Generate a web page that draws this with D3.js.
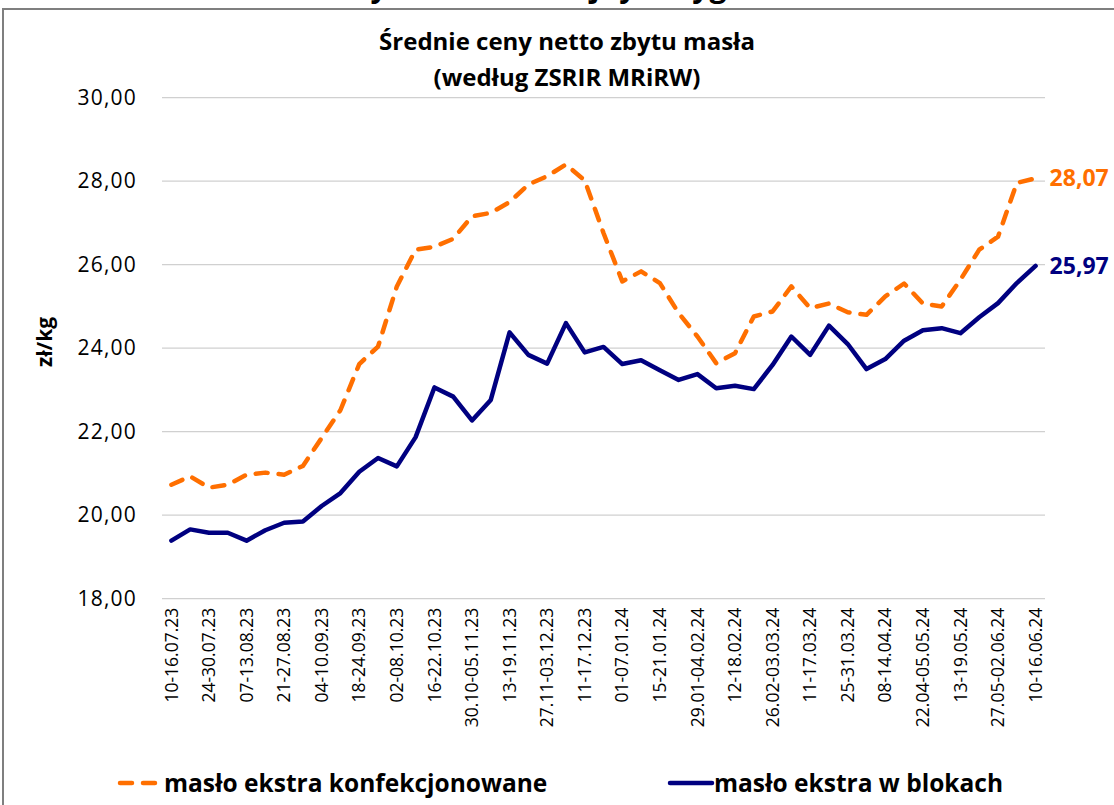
<!DOCTYPE html>
<html>
<head>
<meta charset="utf-8">
<script src="https://cdn.jsdelivr.net/npm/d3@7"></script>
<style>
  body { margin: 0; background: #fff; }
  svg { display: block; font-family: "Open Sans", Lato, sans-serif; }
</style>
</head>
<body>
<div id="chart"></div>
<script>
// Średnie ceny netto zbytu masła - tygodniowo 07.2023 - 06.2024

const weeks = [
  "10-16.07.23", "17-23.07.23", "24-30.07.23", "31.07-06.08.23", "07-13.08.23",
  "14-20.08.23", "21-27.08.23", "28.08-03.09.23", "04-10.09.23", "11-17.09.23",
  "18-24.09.23", "25.09-01.10.23", "02-08.10.23", "09-15.10.23", "16-22.10.23",
  "23-29.10.23", "30.10-05.11.23", "06-12.11.23", "13-19.11.23", "20-26.11.23",
  "27.11-03.12.23", "04-10.12.23", "11-17.12.23", "18-31.12.23", "01-07.01.24",
  "08-14.01.24", "15-21.01.24", "22-28.01.24", "29.01-04.02.24", "05-11.02.24",
  "12-18.02.24", "19-25.02.24", "26.02-03.03.24", "04-10.03.24", "11-17.03.24",
  "18-24.03.24", "25-31.03.24", "01-07.04.24", "08-14.04.24", "15-21.04.24",
  "22.04-05.05.24", "06-12.05.24", "13-19.05.24", "20-26.05.24", "27.05-02.06.24",
  "03-09.06.24", "10-16.06.24"
];

// masło ekstra konfekcjonowane (zł/kg)
const konfekcjonowane = [
  20.73, 20.93, 20.66, 20.73, 20.97, 21.02, 20.97, 21.18, 21.85, 22.52,
  23.62, 24.04, 25.48, 26.36, 26.43, 26.62, 27.16, 27.24, 27.50, 27.92,
  28.12, 28.40, 28.02, 26.76, 25.60, 25.84, 25.56, 24.84, 24.28, 23.64,
  23.88, 24.76, 24.88, 25.48, 24.96, 25.07, 24.86, 24.80, 25.24, 25.55,
  25.07, 25.00, 25.64, 26.36, 26.67, 27.96, 28.07
];

// masło ekstra w blokach (zł/kg)
const wBlokach = [
  19.39, 19.66, 19.58, 19.58, 19.39, 19.64, 19.82, 19.85, 20.22, 20.53,
  21.04, 21.37, 21.17, 21.87, 23.06, 22.84, 22.27, 22.76, 24.38, 23.84,
  23.63, 24.60, 23.90, 24.03, 23.62, 23.71, 23.47, 23.24, 23.38, 23.04,
  23.10, 23.02, 23.60, 24.28, 23.84, 24.54, 24.10, 23.50, 23.74, 24.18,
  24.43, 24.48, 24.36, 24.74, 25.08, 25.56, 25.97
];

const yTicks = [18, 20, 22, 24, 26, 28, 30];

const seriesNames = ["masło ekstra konfekcjonowane", "masło ekstra w blokach"];
const colors = ["#ff6f00", "#000080"];

const W = 1114, H = 805;
const svg = d3.select("#chart")
  .append("svg")
  .attr("width", W)
  .attr("height", H);

// heading of the page above the chart, only its descenders are visible
svg.append("text")
  .attr("x", 580)
  .attr("y", -3)
  .attr("text-anchor", "middle")
  .attr("font-size", 30)
  .attr("font-weight", "bold")
  .text("Ceny masła w kolejnych tygodniach");

// chart frame
svg.append("rect")
  .attr("x", 3).attr("y", 9)
  .attr("width", 1300).attr("height", 1000)
  .attr("fill", "#fff")
  .attr("stroke", "#7f7f7f")
  .attr("stroke-width", 2);

// Plot area
const plot = { left: 162, right: 1045, top: 97.7, bottom: 598.7 };

const x = d3.scaleBand()
  .domain(weeks)
  .range([plot.left, plot.right])
  .padding(0);

const xc = d => x(d) + x.bandwidth() / 2;

const y = d3.scaleLinear()
  .domain([18, 30])
  .range([plot.bottom, plot.top]);

// Gridlines
svg.append("g")
  .selectAll("line")
  .data(yTicks)
  .join("line")
  .attr("x1", plot.left)
  .attr("x2", plot.right)
  .attr("y1", d => y(d))
  .attr("y2", d => y(d))
  .attr("stroke", "#d0d0d0")
  .attr("stroke-width", 1.3);

// Y axis labels
const fmt = d => d3.format(".2f")(d).replace(".", ",");
svg.append("g")
  .call(d3.axisLeft(y).tickValues(yTicks).tickFormat(fmt).tickSize(0).tickPadding(0))
  .attr("transform", "translate(137,0)")
  .call(g => g.select(".domain").remove())
  .call(g => g.selectAll("text")
    .attr("font-family", "'Open Sans', sans-serif")
    .attr("font-size", 21)
    .attr("letter-spacing", 1.2)
    .attr("fill", "#000"));

// Y title
svg.append("text")
  .attr("transform", "translate(52,342) rotate(-90)")
  .attr("text-anchor", "middle")
  .attr("font-size", 21)
  .attr("font-weight", "bold")
  .text("zł/kg");

// X axis labels (every second week)
svg.append("g")
  .call(d3.axisBottom(x)
    .tickValues(weeks.filter((d, i) => i % 2 === 0))
    .tickSize(0)
    .tickPadding(0))
  .attr("transform", `translate(0,${plot.bottom})`)
  .call(g => g.select(".domain").remove())
  .call(g => g.selectAll("text")
    .attr("font-family", "'Open Sans', sans-serif")
    .attr("font-size", 17.5)
    .attr("fill", "#000")
    .attr("text-anchor", "end")
    .attr("transform", "rotate(-90)")
    .attr("x", -9)
    .attr("y", 0)
    .attr("dy", "0.35em"));

// Lines
const line = d3.line()
  .x((d, i) => xc(weeks[i]))
  .y(d => y(d));

svg.append("path")
  .datum(konfekcjonowane)
  .attr("fill", "none")
  .attr("stroke", colors[0])
  .attr("stroke-width", 4.5)
  .attr("stroke-linecap", "round")
  .attr("stroke-linejoin", "round")
  .attr("stroke-dasharray", "12,11")
  .attr("d", line);

svg.append("path")
  .datum(wBlokach)
  .attr("fill", "none")
  .attr("stroke", colors[1])
  .attr("stroke-width", 4.5)
  .attr("stroke-linecap", "round")
  .attr("stroke-linejoin", "round")
  .attr("d", line);

// End value labels
const last = weeks.length - 1;
[konfekcjonowane, wBlokach].forEach((s, k) => {
  svg.append("text")
    .attr("x", xc(weeks[last]) + 14)
    .attr("y", y(s[last]))
    .attr("dy", "0.35em")
    .attr("font-size", 23)
    .attr("font-weight", "bold")
    .attr("fill", colors[k])
    .text(fmt(s[last]));
});

// Legend
const legend = svg.append("g");
const legendX = [118, 668];
seriesNames.forEach((name, k) => {
  const g = legend.append("g").attr("transform", `translate(${legendX[k]},783)`);
  g.append("line")
    .attr("x1", 2).attr("x2", 44)
    .attr("y1", 0).attr("y2", 0)
    .attr("stroke", colors[k])
    .attr("stroke-width", 4.5)
    .attr("stroke-linecap", "round")
    .attr("stroke-dasharray", k === 0 ? "12,11" : null);
  g.append("text")
    .attr("x", 46)
    .attr("y", 0)
    .attr("dy", "0.35em")
    .attr("font-size", 24.5)
    .attr("font-weight", "bold")
    .text(name);
});

// Title
svg.append("text")
  .attr("x", 567)
  .attr("text-anchor", "middle")
  .attr("font-size", 24)
  .attr("font-weight", "bold")
  .selectAll("tspan")
  .data(["Średnie ceny netto zbytu masła", "(według ZSRIR MRiRW)"])
  .join("tspan")
  .attr("x", 567)
  .attr("y", (d, i) => 50 + i * 36)
  .text(d => d);
</script>
</body>
</html>
